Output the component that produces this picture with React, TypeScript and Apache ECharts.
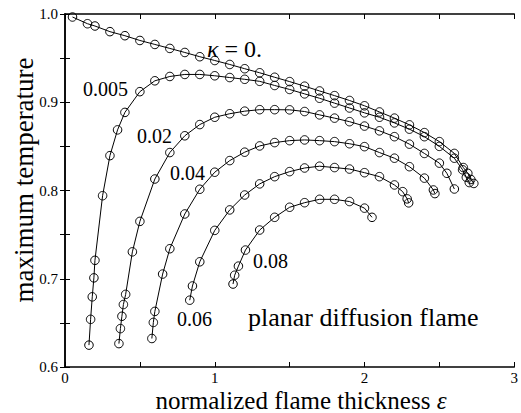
import React, { useEffect, useRef } from 'react';
import * as echarts from 'echarts';

// kappa = 0.
const kappa0X = [0.05, 0.15, 0.2, 0.3, 0.4, 0.5, 0.6, 0.7, 0.8, 0.9, 1.0, 1.1, 1.2, 1.3, 1.4, 1.5, 1.6, 1.7, 1.8, 1.9, 2.0, 2.1, 2.2, 2.3, 2.4, 2.5, 2.6, 2.66, 2.69, 2.71, 2.73];
const kappa0Y = [0.9966, 0.989, 0.9864, 0.98, 0.9754, 0.97, 0.9655, 0.961, 0.9564, 0.9516, 0.9473, 0.9428, 0.938, 0.9334, 0.9283, 0.9234, 0.9182, 0.9128, 0.9075, 0.902, 0.896, 0.889, 0.882, 0.8744, 0.8656, 0.8554, 0.842, 0.826, 0.8195, 0.8125, 0.808];
// kappa = 0.005
const kappa005X = [0.16, 0.171, 0.182, 0.193, 0.2, 0.251, 0.3, 0.351, 0.4, 0.5, 0.6, 0.7, 0.8, 0.9, 1.0, 1.1, 1.2, 1.3, 1.4, 1.5, 1.6, 1.7, 1.8, 1.9, 2.0, 2.1, 2.2, 2.3, 2.4, 2.5, 2.6, 2.655, 2.68, 2.7];
const kappa005Y = [0.6248, 0.654, 0.6795, 0.701, 0.7209, 0.7941, 0.8395, 0.8687, 0.8885, 0.912, 0.9243, 0.9292, 0.9315, 0.9315, 0.93, 0.928, 0.926, 0.9237, 0.919, 0.9145, 0.9095, 0.9045, 0.899, 0.8935, 0.888, 0.883, 0.8766, 0.8695, 0.861, 0.85, 0.8366, 0.8235, 0.815, 0.809];
// kappa = 0.02
const kappa02X = [0.36, 0.37, 0.38, 0.39, 0.405, 0.45, 0.5, 0.6, 0.7, 0.8, 0.9, 1.0, 1.1, 1.2, 1.3, 1.4, 1.5, 1.6, 1.7, 1.8, 1.9, 2.0, 2.1, 2.2, 2.3, 2.4, 2.5, 2.55, 2.6];
const kappa02Y = [0.6265, 0.6435, 0.6575, 0.6708, 0.6823, 0.7305, 0.765, 0.813, 0.843, 0.862, 0.8747, 0.883, 0.887, 0.8899, 0.8916, 0.8916, 0.8914, 0.8895, 0.8857, 0.882, 0.878, 0.873, 0.8676, 0.861, 0.8525, 0.842, 0.831, 0.8195, 0.8017];
// kappa = 0.04
const kappa04X = [0.58, 0.59, 0.6, 0.652, 0.7, 0.8, 0.9, 1.0, 1.1, 1.2, 1.3, 1.4, 1.5, 1.6, 1.7, 1.8, 1.9, 2.0, 2.1, 2.2, 2.3, 2.4, 2.46, 2.47];
const kappa04Y = [0.6323, 0.6505, 0.663, 0.7053, 0.734, 0.7734, 0.8014, 0.8207, 0.8339, 0.8434, 0.8505, 0.8543, 0.8565, 0.8573, 0.8565, 0.8554, 0.853, 0.8497, 0.843, 0.8366, 0.827, 0.814, 0.8006, 0.7965];
// kappa = 0.06
const kappa06X = [0.833, 0.851, 0.9, 1.0, 1.1, 1.2, 1.3, 1.4, 1.5, 1.6, 1.7, 1.8, 1.9, 2.0, 2.1, 2.2, 2.255, 2.285, 2.295];
const kappa06Y = [0.6757, 0.6918, 0.7192, 0.7548, 0.778, 0.7949, 0.8075, 0.8157, 0.8214, 0.8255, 0.8275, 0.826, 0.8243, 0.8202, 0.8157, 0.8063, 0.7987, 0.7905, 0.786];
// kappa = 0.08
const kappa08X = [1.122, 1.133, 1.158, 1.205, 1.3, 1.4, 1.5, 1.6, 1.7, 1.8, 1.9, 2.0, 2.05];
const kappa08Y = [0.694, 0.704, 0.7143, 0.7325, 0.7552, 0.7696, 0.781, 0.7862, 0.79, 0.79, 0.7875, 0.78, 0.7696];

const seriesNames = ['κ = 0.', '0.005', '0.02', '0.04', '0.06', '0.08'];
const seriesX = [kappa0X, kappa005X, kappa02X, kappa04X, kappa06X, kappa08X];
const seriesY = [kappa0Y, kappa005Y, kappa02Y, kappa04Y, kappa06Y, kappa08Y];

const xTickLabels = ['0', '1', '2', '3'];
const yTickLabels = ['0.6', '0.7', '0.8', '0.9', '1.0'];

const FONT = '"Liberation Serif", "Times New Roman", serif';

function pairs(xs: number[], ys: number[]) {
  return xs.map((x, i) => [x, ys[i]]);
}

export default function App() {
  const ref = useRef<HTMLDivElement>(null);
  useEffect(() => {
    document.body.style.margin = '0';
    const chart = echarts.init(ref.current as HTMLDivElement, null, { renderer: 'svg' });
    const line = { show: true, lineStyle: { color: '#000', width: 1.5 } };
    const tick = { show: true, inside: true, length: 5, lineStyle: { color: '#000', width: 1 } };
    const xFmt = (v: number) => {
      const k = Math.round(v);
      return Math.abs(v - k) < 1e-9 ? xTickLabels[k] ?? '' : '';
    };
    const yFmt = (v: number) => {
      const t = (v - 0.6) * 10;
      const k = Math.round(t);
      return Math.abs(t - k) < 1e-6 ? yTickLabels[k] ?? '' : '';
    };
    const textStyle = (size: number) => ({ fill: '#000', font: `${size}px ${FONT}` });
    chart.setOption({
      animation: false,
      grid: { left: 65, right: 6, top: 14, bottom: 46 },
      xAxis: [
        {
          type: 'value', min: 0, max: 3, interval: 0.5, position: 'bottom',
          axisLine: line, axisTick: tick, splitLine: { show: false },
          axisLabel: { formatter: xFmt, color: '#000', fontFamily: FONT, fontSize: 15, margin: 3 },
        },
        {
          type: 'value', min: 0, max: 3, interval: 0.5, position: 'top',
          axisLine: line, axisTick: tick, splitLine: { show: false }, axisLabel: { show: false },
        },
      ],
      yAxis: [
        {
          type: 'value', min: 0.6, max: 1.0, interval: 0.05, position: 'left',
          axisLine: line, axisTick: tick, splitLine: { show: false },
          axisLabel: { formatter: yFmt, color: '#000', fontFamily: FONT, fontSize: 15, margin: 7 },
        },
        {
          type: 'value', min: 0.6, max: 1.0, interval: 0.05, position: 'right',
          axisLine: line, axisTick: tick, splitLine: { show: false }, axisLabel: { show: false },
        },
      ],
      series: seriesNames.map((name, i) => ({
        name,
        type: 'line',
        xAxisIndex: 0,
        yAxisIndex: 0,
        data: pairs(seriesX[i], seriesY[i]),
        symbol: 'circle',
        symbolSize: 8.5,
        showSymbol: true,
        silent: true,
        emphasis: { disabled: true },
        itemStyle: { color: 'rgba(0,0,0,0)', borderColor: '#000', borderWidth: 1 },
        lineStyle: { color: '#000', width: 1 },
      })),
      graphic: [
        {
          type: 'text', x: 207, y: 49,
          style: {
            text: '{i|κ} = 0.', ...textStyle(24), verticalAlign: 'middle',
            rich: { i: { fontStyle: 'italic', fontFamily: FONT, fontSize: 24, fill: '#000' } },
          },
        },
        { type: 'text', x: 83, y: 88.5, style: { text: '0.005', ...textStyle(20), verticalAlign: 'middle' } },
        { type: 'text', x: 137, y: 135.5, style: { text: '0.02', ...textStyle(20), verticalAlign: 'middle' } },
        { type: 'text', x: 170, y: 173, style: { text: '0.04', ...textStyle(20), verticalAlign: 'middle' } },
        { type: 'text', x: 177, y: 318.5, style: { text: '0.06', ...textStyle(20), verticalAlign: 'middle' } },
        { type: 'text', x: 253, y: 261, style: { text: '0.08', ...textStyle(20), verticalAlign: 'middle' } },
        { type: 'text', x: 248, y: 317, style: { text: 'planar diffusion flame', ...textStyle(26), verticalAlign: 'middle' } },
        {
          type: 'text', x: 301, y: 400,
          style: {
            text: 'normalized flame thickness {i|ε}', ...textStyle(25), align: 'center', verticalAlign: 'middle',
            rich: { i: { fontStyle: 'italic', fontFamily: FONT, fontSize: 25, fill: '#000' } },
          },
        },
        {
          type: 'text', x: 24, y: 180, rotation: Math.PI / 2,
          style: { text: 'maximum temperature', ...textStyle(27), align: 'center', verticalAlign: 'middle' },
        },
      ],
    });
    return () => chart.dispose();
  }, []);
  return <div ref={ref} style={{ width: 521, height: 413 }} />;
}
